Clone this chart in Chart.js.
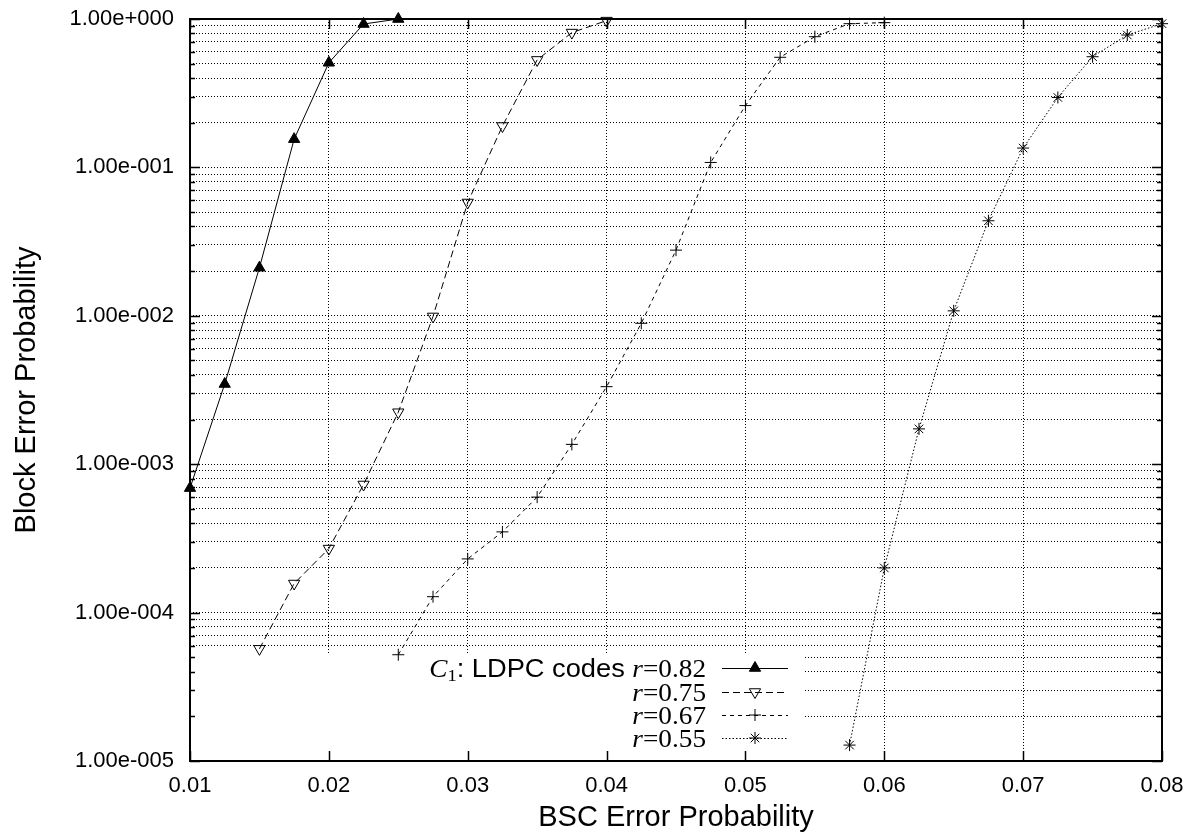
<!DOCTYPE html>
<html>
<head>
<meta charset="utf-8">
<script src="https://cdn.jsdelivr.net/npm/chart.js@4.4.1/dist/chart.umd.min.js"></script>
<style>
  html, body { margin: 0; padding: 0; background: #fff; }
  #wrap { width: 1194px; height: 835px; position: relative; }
</style>
</head>
<body>
<div id="wrap"><canvas id="ber"></canvas></div>
<script>
/* ---------- Data ---------- */
const rates = ['0.82', '0.75', '0.67', '0.55'];

const bscR082 = [0.01, 0.0125, 0.015, 0.0175, 0.02, 0.0225, 0.025];
const berR082 = [6.9e-4, 3.47e-3, 2.11e-2, 0.155, 0.507, 0.925, 1.0];

const bscR075 = [0.015, 0.0175, 0.02, 0.0225, 0.025, 0.0275, 0.03, 0.0325, 0.035, 0.0375, 0.04];
const berR075 = [5.7e-5, 1.57e-4, 2.7e-4, 7.3e-4, 2.24e-3, 9.9e-3, 5.8e-2, 0.19, 0.53, 0.81, 0.975];

const bscR067 = [0.025, 0.0275, 0.03, 0.0325, 0.035, 0.0375, 0.04, 0.0425, 0.045, 0.0475, 0.05, 0.0525, 0.055, 0.0575, 0.06];
const berR067 = [5.2e-5, 1.28e-4, 2.3e-4, 3.5e-4, 6.0e-4, 1.36e-3, 3.33e-3, 8.9e-3, 2.77e-2, 0.108, 0.261, 0.552, 0.76, 0.93, 0.945];

const bscR055 = [0.0575, 0.06, 0.0625, 0.065, 0.0675, 0.07, 0.0725, 0.075, 0.0775, 0.08];
const berR055 = [1.28e-5, 2.0e-4, 1.73e-3, 1.08e-2, 4.37e-2, 0.135, 0.296, 0.557, 0.78, 0.93];

const xTickValues = [0.01, 0.02, 0.03, 0.04, 0.05, 0.06, 0.07, 0.08];
const xTickLabels = ['0.01', '0.02', '0.03', '0.04', '0.05', '0.06', '0.07', '0.08'];
const yTickValues = [1e-5, 1e-4, 1e-3, 1e-2, 1e-1, 1];
const yTickLabels = ['1.00e-005', '1.00e-004', '1.00e-003', '1.00e-002', '1.00e-001', '1.00e+000'];

/* ---------- Helpers ---------- */
const SANS = "'Liberation Sans', Arial, sans-serif";
const SERIF = "'Liberation Serif', 'Times New Roman', serif";

function pairs(xs, ys) {
    return xs.map((x, i) => ({ x: x, y: ys[i] }));
}

// major decades plus 2..9 minors, for the dotted grid
const yGridValues = [];
yTickValues.forEach((d, i) => {
    yGridValues.push(d);
    if (i < yTickValues.length - 1) {
        for (let m = 2; m <= 9; m++) yGridValues.push(d * m);
    }
});

function isMajor(v) {
    return yTickValues.findIndex(t => Math.abs(v / t - 1) < 1e-6);
}

/* ---------- Series styles ---------- */
const seriesStyle = [
    { dash: [],       pointStyle: 'triangle', rotation: 0,   fill: '#000',        radius: 6.5 },
    { dash: [7, 4],   pointStyle: 'triangle', rotation: 180, fill: 'rgba(0,0,0,0)', radius: 6.5 },
    { dash: [4, 4],   pointStyle: 'cross',    rotation: 0,   fill: 'rgba(0,0,0,0)', radius: 6 },
    { dash: [1.5, 2], pointStyle: 'star',     rotation: 0,   fill: 'rgba(0,0,0,0)', radius: 6 }
];

const seriesData = [
    pairs(bscR082, berR082),
    pairs(bscR075, berR075),
    pairs(bscR067, berR067),
    pairs(bscR055, berR055)
];

const datasets = seriesData.map((d, i) => ({
    label: 'r=' + rates[i],
    data: d,
    borderColor: '#000',
    borderWidth: 1,
    borderDash: seriesStyle[i].dash,
    pointStyle: seriesStyle[i].pointStyle,
    pointRotation: seriesStyle[i].rotation,
    pointRadius: seriesStyle[i].radius,
    pointBackgroundColor: seriesStyle[i].fill,
    pointBorderColor: '#000',
    pointBorderWidth: 1,
    tension: 0,
    clip: false
}));

/* ---------- Legend box (opaque, gnuplot style) ---------- */
const keyBox = { left: 193, right: 803, top: 654, bottom: 760 };
const keyRows = [668, 692, 715, 738];
const keyTextRight = 706;
const keyStretch = 1.09;

function drawPieces(ctx, pieces, rightX, baseY) {
    let total = 0;
    pieces.forEach(p => { ctx.font = p.font; p.w = ctx.measureText(p.t).width; total += p.w; });
    let x = rightX - total * keyStretch;
    pieces.forEach(p => {
        ctx.save();
        ctx.font = p.font;
        ctx.translate(x, baseY + (p.dy || 0));
        ctx.scale(keyStretch, 1);
        ctx.fillText(p.t, 0, 0);
        ctx.restore();
        x += p.w * keyStretch;
    });
}

const gnuplotFrame = {
    id: 'gnuplotFrame',
    beforeDatasetsDraw(chart) {
        const ctx = chart.ctx;
        ctx.save();
        ctx.fillStyle = '#fff';
        ctx.fillRect(keyBox.left, keyBox.top, keyBox.right - keyBox.left, keyBox.bottom - keyBox.top);
        ctx.restore();
    },
    afterDatasetsDraw(chart) {
        const ctx = chart.ctx;
        const { left, right, top, bottom } = chart.chartArea;
        const xs = chart.scales.x, ys = chart.scales.y;
        ctx.save();
        ctx.strokeStyle = '#000';
        ctx.lineWidth = 1.5;
        ctx.beginPath();
        xTickValues.forEach(v => {
            const px = Math.round(xs.getPixelForValue(v)) + 0.5;
            ctx.moveTo(px, bottom); ctx.lineTo(px, bottom - 10);
            ctx.moveTo(px, top); ctx.lineTo(px, top + 10);
        });
        yGridValues.forEach(v => {
            const py = Math.round(ys.getPixelForValue(v)) + 0.5;
            const len = isMajor(v) >= 0 ? 10 : 5;
            ctx.moveTo(left, py); ctx.lineTo(left + len, py);
            ctx.moveTo(right, py); ctx.lineTo(right - len, py);
        });
        ctx.stroke();
        ctx.lineWidth = 2;
        ctx.strokeRect(left, top, right - left, bottom - top);

        // key
        ctx.fillStyle = '#000';
        ctx.textBaseline = 'alphabetic';
        chart.data.datasets.forEach((ds, i) => {
            const cy = keyRows[i];
            const pieces = [];
            if (i === 0) {
                pieces.push({ t: 'C', font: 'italic 25px ' + SERIF });
                pieces.push({ t: '1', font: '17px ' + SERIF, dy: 4 });
                pieces.push({ t: ': LDPC codes ', font: '25px ' + SANS });
            }
            pieces.push({ t: 'r', font: 'italic 25px ' + SERIF });
            pieces.push({ t: '=' + rates[i], font: '25px ' + SERIF });
            drawPieces(ctx, pieces, keyTextRight, cy + 8.5);

            ctx.save();
            ctx.lineWidth = 1;
            ctx.setLineDash(ds.borderDash);
            ctx.beginPath();
            ctx.moveTo(722, cy + 0.5); ctx.lineTo(788, cy + 0.5);
            ctx.stroke();
            ctx.setLineDash([]);
            ctx.fillStyle = ds.pointBackgroundColor;
            ctx.strokeStyle = '#000';
            Chart.helpers.drawPoint(ctx, {
                pointStyle: ds.pointStyle,
                rotation: ds.pointRotation,
                radius: ds.pointRadius,
                borderWidth: 1
            }, 755, cy);
            ctx.restore();
        });
        ctx.restore();
    }
};

/* ---------- Chart ---------- */
Chart.defaults.font.family = SANS;
Chart.defaults.color = '#000';

new Chart(document.getElementById('ber'), {
    type: 'line',
    data: { datasets: datasets },
    plugins: [gnuplotFrame],
    options: {
        responsive: true,
        maintainAspectRatio: false,
        animation: false,
        layout: { padding: { left: 0, top: 19, right: 32, bottom: 0 } },
        plugins: {
            legend: { display: false },
            tooltip: { enabled: false }
        },
        scales: {
            x: {
                type: 'linear',
                min: 0.01,
                max: 0.08,
                afterBuildTicks: s => { s.ticks = xTickValues.map(v => ({ value: v })); },
                afterFit: s => { s.height = 74; s.paddingLeft = 0; s.paddingRight = 0; },
                ticks: {
                    autoSkip: false,
                    maxRotation: 0,
                    padding: 12,
                    font: { size: 22 },
                    callback: v => {
                        const k = xTickValues.findIndex(t => Math.abs(t - v) < 1e-9);
                        return k >= 0 ? xTickLabels[k] : '';
                    }
                },
                grid: { color: '#000', lineWidth: 1, drawTicks: false },
                border: { display: false, dash: [1, 2] },
                title: {
                    display: true,
                    text: 'BSC Error Probability',
                    font: { size: 29 },
                    padding: { top: 2, bottom: 0 }
                }
            },
            y: {
                type: 'logarithmic',
                min: 1e-5,
                max: 1,
                afterBuildTicks: s => { s.ticks = yGridValues.map(v => ({ value: v })); },
                afterFit: s => { s.width = 190; s.paddingTop = 0; s.paddingBottom = 0; },
                ticks: {
                    autoSkip: false,
                    padding: 16,
                    font: { size: 22 },
                    callback: v => {
                        const k = isMajor(v);
                        return k >= 0 ? yTickLabels[k] : '';
                    }
                },
                grid: { color: '#000', lineWidth: 1, drawTicks: false },
                border: { display: false, dash: [1, 2] },
                title: {
                    display: true,
                    text: 'Block Error Probability',
                    font: { size: 29 },
                    padding: { top: 10, bottom: 4 }
                }
            }
        }
    }
});
</script>
</body>
</html>
